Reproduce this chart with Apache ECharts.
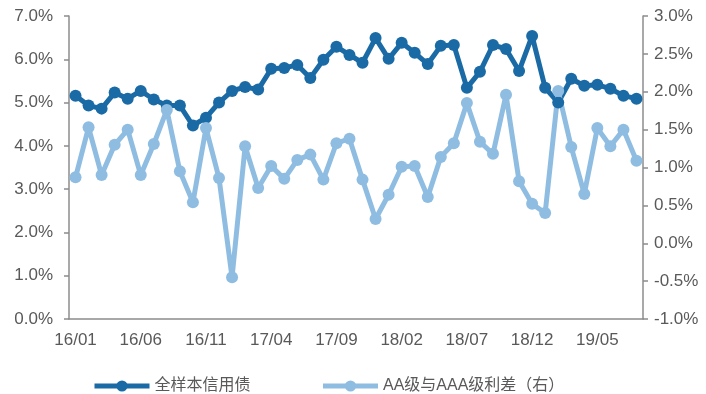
<!DOCTYPE html>
<html>
<head>
<meta charset="utf-8">
<script src="https://cdn.jsdelivr.net/npm/echarts@6/dist/echarts.min.js"></script>
<style>
  html, body { margin: 0; padding: 0; background: #fff; }
  #chart { width: 706px; height: 394px; }
</style>
</head>
<body>
<div id="chart"></div>
<script>
// Monthly, 2016-01 .. 2019-08
const months = [];
for (let y = 16; y <= 19; y++) {
  for (let m = 1; m <= 12; m++) {
    if (y === 19 && m > 8) break;
    months.push(y + '/' + String(m).padStart(2, '0'));
  }
}

// 全样本信用债 (%), left axis
const creditYield = [
  5.16, 4.93, 4.86, 5.23, 5.09, 5.27, 5.07, 4.93, 4.93, 4.47,
  4.65, 5.00, 5.27, 5.36, 5.30, 5.78, 5.80, 5.87, 5.57, 5.99,
  6.29, 6.10, 5.92, 6.49, 6.01, 6.38, 6.15, 5.89, 6.31, 6.33,
  5.34, 5.71, 6.33, 6.24, 5.73, 6.54, 5.34, 5.00, 5.55, 5.39,
  5.41, 5.32, 5.16, 5.09
];

// AA级与AAA级利差 (%), right axis
const aaSpread = [
  0.87, 1.53, 0.90, 1.30, 1.50, 0.90, 1.31, 1.76, 0.95, 0.54,
  1.52, 0.86, -0.45, 1.28, 0.73, 1.02, 0.85, 1.10, 1.17, 0.84,
  1.32, 1.38, 0.84, 0.32, 0.64, 1.01, 1.02, 0.61, 1.14, 1.32,
  1.85, 1.34, 1.18, 1.96, 0.82, 0.52, 0.40, 2.01, 1.27, 0.65,
  1.52, 1.28, 1.50, 1.09
];

const seriesNames = ['全样本信用债', 'AA级与AAA级利差（右）'];
const colors = ['#1a6aa6', '#8fbde2'];

const axisColor = '#8c8c8c';
const labelColor = '#595959';
const latin = '"Liberation Sans", Arial, sans-serif';
const cjk = '"Liberation Sans", "Noto Sans CJK SC", sans-serif';

const pct = v => v.toFixed(1) + '%';

const chart = echarts.init(document.getElementById('chart'), null, { renderer: 'canvas' });
chart.setOption({
  animation: false,
  backgroundColor: '#ffffff',
  grid: { left: 69, right: 63, top: 16, bottom: 75, containLabel: false },
  legend: {
    data: seriesNames,
    left: 87,
    top: 373,
    itemWidth: 55,
    itemHeight: 14,
    itemGap: 70,
    lineStyle: { width: 5 },
    textStyle: { fontFamily: cjk, fontSize: 16, color: labelColor, padding: [0, 0, 0, 0] }
  },
  xAxis: {
    type: 'category',
    data: months,
    boundaryGap: true,
    axisLine: { lineStyle: { color: axisColor, width: 1.5 } },
    axisTick: { interval: 4, length: 5, lineStyle: { color: axisColor, width: 1.5 } },
    axisLabel: { interval: 4, margin: 13, fontFamily: latin, fontSize: 17, color: labelColor },
    splitLine: { show: false }
  },
  yAxis: [
    {
      type: 'value',
      min: 0, max: 7, interval: 1,
      axisLine: { show: true, lineStyle: { color: axisColor, width: 1.5 } },
      axisTick: { show: true, length: 5, lineStyle: { color: axisColor, width: 1.5 } },
      axisLabel: { formatter: pct, margin: 16, fontFamily: latin, fontSize: 17, color: labelColor },
      splitLine: { show: false }
    },
    {
      type: 'value',
      min: -1, max: 3, interval: 0.5,
      axisLine: { show: true, lineStyle: { color: axisColor, width: 1.5 } },
      axisTick: { show: true, length: 5, lineStyle: { color: axisColor, width: 1.5 } },
      axisLabel: { formatter: pct, margin: 11, fontFamily: latin, fontSize: 17, color: labelColor },
      splitLine: { show: false }
    }
  ],
  series: [
    {
      name: seriesNames[0],
      type: 'line',
      yAxisIndex: 0,
      data: creditYield,
      symbol: 'circle',
      symbolSize: 12,
      showAllSymbol: true,
      color: colors[0],
      lineStyle: { width: 5, color: colors[0] },
      itemStyle: { color: colors[0] }
    },
    {
      name: seriesNames[1],
      type: 'line',
      yAxisIndex: 1,
      data: aaSpread,
      symbol: 'circle',
      symbolSize: 12,
      showAllSymbol: true,
      color: colors[1],
      lineStyle: { width: 5, color: colors[1] },
      itemStyle: { color: colors[1] }
    }
  ]
});
</script>
</body>
</html>
